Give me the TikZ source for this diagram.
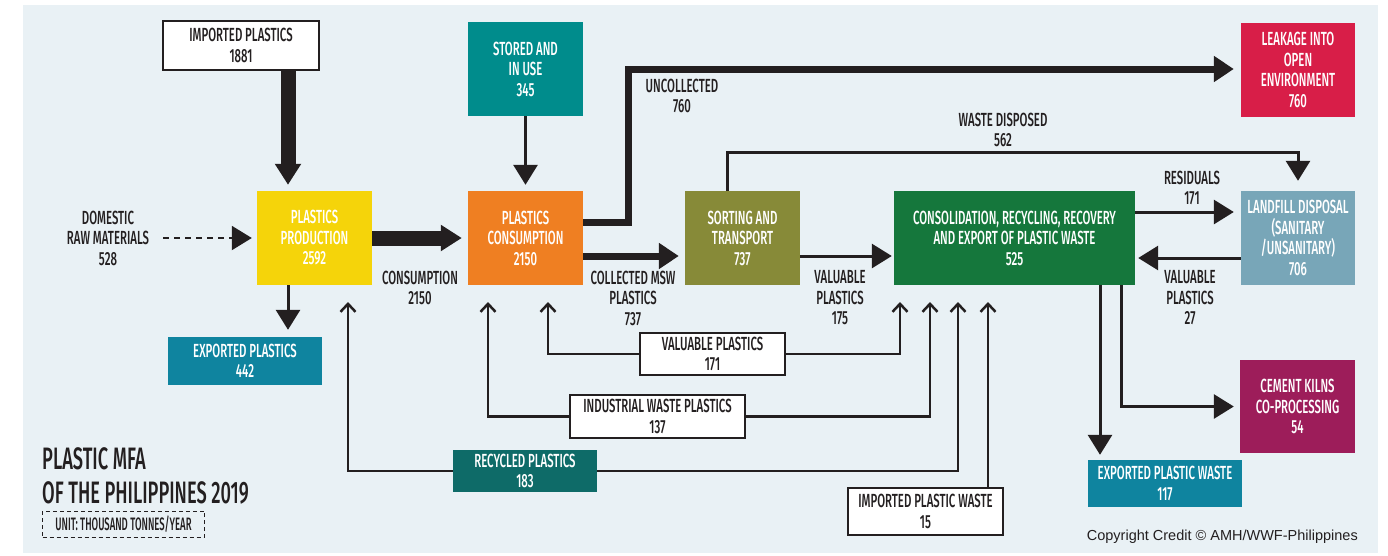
\documentclass[tikz,border=0pt]{standalone}
\usepackage{fontspec}
\setmainfont{Fira Sans}[FakeStretch=0.6, UprightFont={* Medium}, BoldFont={* Bold}]
\newfontfamily\titlefam{Fira Sans}[FakeStretch=0.59, UprightFont={* Medium}]
\newfontfamily\unitfam{Fira Sans}[FakeStretch=0.53, UprightFont={* Medium}]
\newfontfamily\copyfont{Liberation Sans}
\usetikzlibrary{arrows.meta}
\definecolor{bgc}{HTML}{E9F1F5}
\definecolor{ink}{HTML}{231F20}
\definecolor{cyellow}{HTML}{F5D40A}
\definecolor{corange}{HTML}{EF7F22}
\definecolor{cteal}{HTML}{008C8C}
\definecolor{colive}{HTML}{878A38}
\definecolor{cgreen}{HTML}{15773C}
\definecolor{ccrimson}{HTML}{D81E48}
\definecolor{cland}{HTML}{78A6B8}
\definecolor{cexp}{HTML}{0F849F}
\definecolor{crec}{HTML}{0E6B68}
\definecolor{ccem}{HTML}{9D1D5A}
\newcommand\lblfont{\fontsize{19}{20.5}\selectfont}
\newcommand\titlefont{\titlefam\fontsize{31}{34}\selectfont}
\newcommand\unitfont{\unitfam\fontsize{18}{19}\selectfont}
\tikzset{
  lbl/.style={font=\lblfont, text=ink, align=center, inner sep=0pt},
  cbox/.style={fill=#1, text=white, font=\lblfont, align=center, inner sep=0pt},
  wbox/.style={fill=white, draw=ink, line width=2.5pt, text=ink, font=\lblfont, align=center, inner sep=0pt},
  bigflow/.style={draw=ink, line width=15pt, -{Triangle[width=25pt,length=21pt]}},
  midflow/.style={draw=ink, line width=7pt, -{Triangle[width=25pt,length=20pt]}},
  thinflow/.style={draw=ink, line width=3pt, -{Triangle[width=24pt,length=20pt]}},
  dashflow/.style={draw=ink, line width=2pt, dash pattern=on 6pt off 5pt, -{Triangle[width=24pt,length=20pt]}},
  backflow/.style={draw=ink, line width=2.5pt, -{Straight Barb[width=15pt,length=8pt]}},
}
\begin{document}
\begin{tikzpicture}[x=1pt,y=-1pt]
\fill[white] (0,0) rectangle (1388,555);
\fill[bgc] (23,5) rectangle (1378,553);
\useasboundingbox (0,0) rectangle (1388,555);

% boxes
\node[wbox, minimum width=156pt, minimum height=49pt] (imp) at (241,45.5) {IMPORTED PLASTICS\\1881};
\node[cbox=cyellow, minimum width=115pt, minimum height=94pt] (prod) at (314.5,238) {PLASTICS\\PRODUCTION\\2592};
\node[cbox=corange, minimum width=115pt, minimum height=94pt] (cons) at (525.5,238) {PLASTICS\\CONSUMPTION\\2150};
\node[cbox=cteal, minimum width=115pt, minimum height=94pt] (stored) at (525.5,69) {STORED AND\\IN USE\\345};
\node[cbox=colive, minimum width=115pt, minimum height=94pt] (sort) at (742.5,238) {SORTING AND\\TRANSPORT\\737};
\node[cbox=cgreen, minimum width=241pt, minimum height=94pt] (consol) at (1014.5,238) {CONSOLIDATION, RECYCLING, RECOVERY\\AND EXPORT OF PLASTIC WASTE\\525};
\node[cbox=ccrimson, minimum width=114pt, minimum height=94pt] (leak) at (1298,70) {LEAKAGE INTO\\OPEN\\ENVIRONMENT\\760};
\node[cbox=cland, minimum width=114pt, minimum height=94pt] (land) at (1298,238) {LANDFILL DISPOSAL\\(SANITARY\\/UNSANITARY)\\706};
\node[cbox=cexp, minimum width=154pt, minimum height=48pt] (exp) at (245,361) {EXPORTED PLASTICS\\442};
\node[cbox=cexp, minimum width=154pt, minimum height=47pt] (expw) at (1165,483.5) {EXPORTED PLASTIC WASTE\\117};
\node[cbox=ccem, minimum width=115pt, minimum height=93pt] (cem) at (1297.5,406.5) {CEMENT KILNS\\CO-PROCESSING\\54};
\node[cbox=crec, minimum width=144pt, minimum height=42pt] (rec) at (525,471) {RECYCLED PLASTICS\\183};
\node[wbox, minimum width=175pt, minimum height=43pt] (ind) at (657.5,416.5) {INDUSTRIAL WASTE PLASTICS\\137};
\node[wbox, minimum width=145pt, minimum height=42pt] (val) at (712.5,354) {VALUABLE PLASTICS\\171};
\node[wbox, minimum width=155pt, minimum height=47pt] (impw) at (925.5,511.5) {IMPORTED PLASTIC WASTE\\15};

% labels
\node[lbl] (ldom) at (108,238) {DOMESTIC\\RAW MATERIALS\\528};
\node[lbl] (lcons) at (420,288) {CONSUMPTION\\2150};
\node[lbl] (luncol) at (682,96) {UNCOLLECTED\\760};
\node[lbl] (lcol) at (633,298) {COLLECTED MSW\\PLASTICS\\737};
\node[lbl] (lval175) at (840,298) {VALUABLE\\PLASTICS\\175};
\node[lbl] (lwaste) at (1003,130) {WASTE DISPOSED\\562};
\node[lbl] (lres) at (1192,188) {RESIDUALS\\171};
\node[lbl] (lval27) at (1190,298) {VALUABLE\\PLASTICS\\27};

\node[anchor=west, font=\titlefont, text=ink, align=left, inner sep=0pt] (title) at (42,476) {PLASTIC MFA\\OF THE PHILIPPINES 2019};
\node[draw=ink, dash pattern=on 4pt off 3pt, line width=1pt, minimum width=162pt, minimum height=26pt, inner sep=0pt, font=\unitfont, text=ink] (unit) at (123.5,524) {UNIT: THOUSAND TONNES/YEAR};
\node[anchor=east, font=\copyfont\fontsize{14.5}{16}\selectfont, text=ink, inner sep=0pt] (copy) at (1358,537) {Copyright Credit © AMH/WWF-Philippines};

% helper coordinates
\coordinate (xa) at (288,0);
\coordinate (xb) at (1100,0);
\coordinate (xc) at (1121,0);
\coordinate (dstart) at (163,238);
\coordinate (t1) at (348,302);
\coordinate (t2) at (488,302);
\coordinate (t3) at (548,302);
\coordinate (t4) at (900,302);
\coordinate (t5) at (930,302);
\coordinate (t6) at (958,302);
\coordinate (t7) at (988,302);

% main flows
\draw[bigflow, shorten >=6pt] (imp.south -| xa) -- (prod.north -| xa);
\draw[bigflow, shorten >=6pt] (prod.east) -- (cons.west);
\draw[dashflow, shorten >=5pt] (dstart) -- (prod.west);
\draw[thinflow, shorten >=6pt] (stored.south) -- (cons.north);
\draw[midflow, shorten >=7pt] ([yshift=16pt]cons.east) -- ++(45,0) |- ([yshift=1pt]leak.west);
\draw[midflow, shorten >=6pt] ([yshift=-18pt]cons.east) -- ([yshift=-18pt]sort.west);
\draw[thinflow, shorten >=2pt] ([yshift=-18pt]sort.east) -- ([yshift=-18pt]consol.west);
\draw[thinflow, shorten >=10pt] ([xshift=-15.5pt]sort.north) -- ++(0,-38) -| (land.north);
\draw[thinflow, shorten >=7pt] ([yshift=26pt]consol.east) -- ([yshift=26pt]land.west);
\draw[thinflow, shorten >=3pt] ([yshift=-20pt]land.west) -- ([yshift=-20pt]consol.east);
\draw[thinflow, shorten >=7pt] (prod.south -| xa) -- (exp.north -| xa);
\draw[thinflow, shorten >=5pt] (consol.south -| xb) -- (expw.north -| xb);
\draw[thinflow, shorten >=6pt] (consol.south -| xc) |- (cem.west);

% feedback flows
\draw[backflow] (rec.west) -| (t1);
\draw[backflow] (ind.west) -| (t2);
\draw[backflow] (val.west) -| (t3);
\draw[backflow] (val.east) -| (t4);
\draw[backflow] (ind.east) -| (t5);
\draw[backflow] (rec.east) -| (t6);
\draw[backflow] (impw.north -| t7) -- (t7);
\end{tikzpicture}
\end{document}
